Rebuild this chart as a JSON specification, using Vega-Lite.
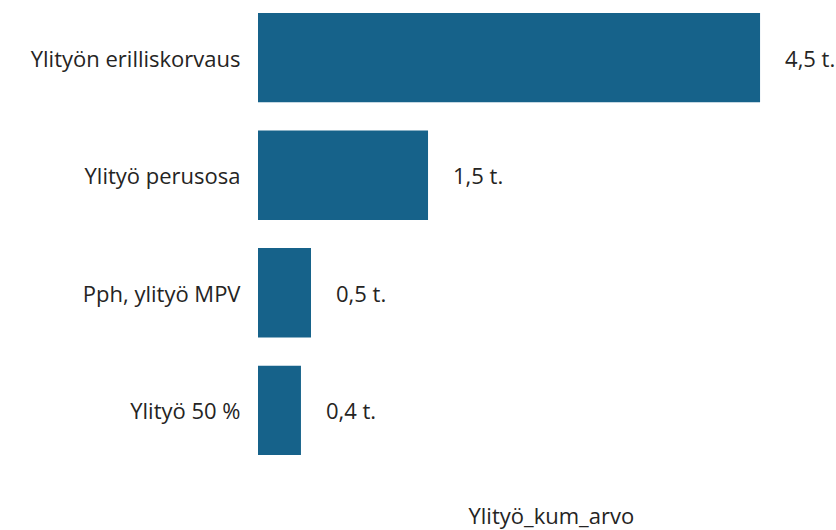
{
  "$schema": "https://vega.github.io/schema/vega-lite/v6.json",
  "width": 542,
  "height": 468,
  "padding": {"top": 0, "left": 258, "right": 36, "bottom": 62},
  "autosize": {"type": "none"},
  "config": {"view": {"stroke": null}, "font": "Open Sans"},
  "data": {"values": [
    {"laji": "Ylityön erilliskorvaus", "arvo": 4.5, "label": "4,5 t."},
    {"laji": "Ylityö perusosa", "arvo": 1.524, "label": "1,5 t."},
    {"laji": "Pph, ylityö MPV", "arvo": 0.475, "label": "0,5 t."},
    {"laji": "Ylityö 50 %", "arvo": 0.385, "label": "0,4 t."}
  ]},
  "encoding": {
    "y": {"field": "laji", "type": "nominal", "sort": null,
      "scale": {"paddingInner": 0.24, "paddingOuter": 0.11},
      "axis": {"title": null, "ticks": false, "domain": false, "labelFontSize": 22, "labelColor": "#252423", "labelPadding": 18, "labelOffset": 2, "labelFont": "Open Sans", "labelLimit": 260}},
    "x": {"field": "arvo", "type": "quantitative",
      "scale": {"domain": [0, 4.858], "nice": false},
      "axis": {"title": "Ylityö_kum_arvo", "labels": false, "ticks": false, "domain": false, "grid": false, "titleFontSize": 22, "titleFontWeight": "normal", "titleColor": "#252423", "titleFont": "Open Sans", "titleAlign": "left", "titleAnchor": null, "titleX": 210, "titleY": 55, "titleBaseline": "alphabetic"}}
  },
  "layer": [
    {"mark": {"type": "bar", "color": "#16628a"}},
    {"mark": {"type": "text", "align": "left", "dx": 25, "dy": 2, "fontSize": 22, "color": "#252423", "font": "Open Sans"},
     "encoding": {"text": {"field": "label"}}}
  ]
}
